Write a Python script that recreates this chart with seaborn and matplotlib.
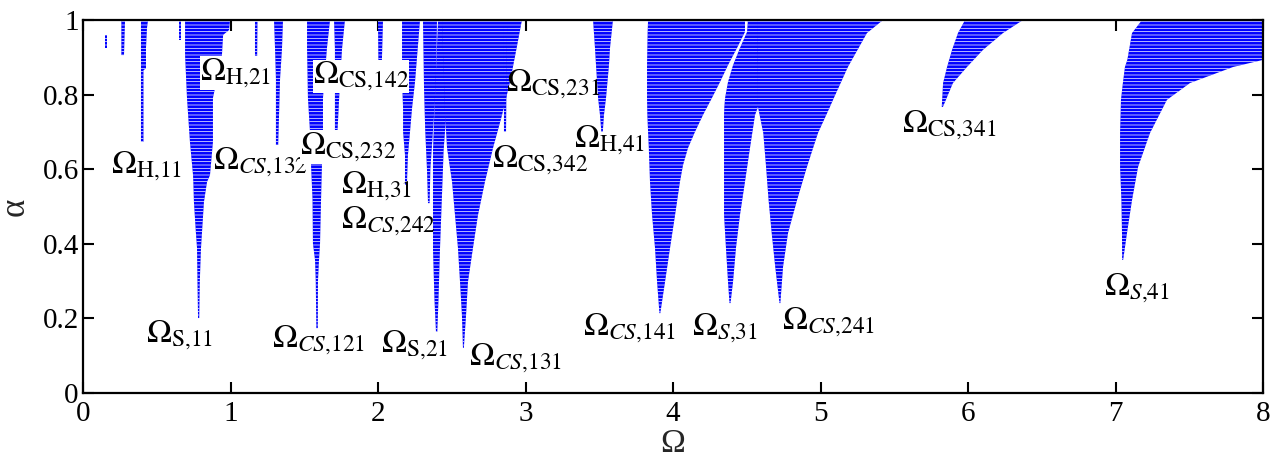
import numpy as np
import seaborn as sns
import matplotlib.pyplot as plt

# instability regions: (alpha, Omega_left, Omega_right), top to tip
dash_016 = [(0.960, 0.150, 0.165), (0.925, 0.150, 0.165)]
line_027 = [(1.000, 0.260, 0.285), (0.906, 0.260, 0.278)]
tongue_h11 = [(1.000, 0.393, 0.441), (0.979, 0.393, 0.434), (0.925, 0.393, 0.427),
              (0.871, 0.393, 0.427), (0.865, 0.393, 0.410), (0.673, 0.393, 0.410)]
line_065 = [(1.000, 0.650, 0.665), (0.946, 0.650, 0.665)]
tongue_s11 = [(1.000, 0.692, 0.997), (0.973, 0.692, 0.990), (0.960, 0.692, 0.950),
              (0.906, 0.692, 0.942), (0.791, 0.705, 0.881), (0.673, 0.725, 0.881),
              (0.584, 0.746, 0.861), (0.566, 0.748, 0.841), (0.512, 0.752, 0.820),
              (0.432, 0.765, 0.807), (0.389, 0.773, 0.800), (0.300, 0.776, 0.792),
              (0.201, 0.780, 0.788)]
line_117 = [(0.995, 1.166, 1.183), (0.871, 1.166, 1.180)]
line_130 = [(1.000, 1.295, 1.356), (0.922, 1.302, 1.349), (0.842, 1.308, 1.336),
            (0.646, 1.308, 1.322)]
tongue_cs121 = [(1.000, 1.519, 1.675), (0.925, 1.519, 1.654), (0.791, 1.525, 1.627),
                (0.700, 1.539, 1.627), (0.611, 1.546, 1.620), (0.520, 1.556, 1.614),
                (0.400, 1.559, 1.607), (0.357, 1.573, 1.600), (0.300, 1.578, 1.593),
                (0.174, 1.582, 1.592)]
line_171 = [(1.000, 1.702, 1.776), (0.922, 1.708, 1.756), (0.786, 1.708, 1.736),
            (0.673, 1.708, 1.722)]
line_202 = [(1.000, 2.000, 2.034), (0.871, 2.003, 2.025)]
tongue_h31 = [(1.000, 2.163, 2.285), (0.834, 2.163, 2.251), (0.764, 2.170, 2.231),
              (0.700, 2.170, 2.217), (0.638, 2.183, 2.203), (0.558, 2.183, 2.196)]
tongue_cs242 = [(1.000, 2.305, 2.400), (0.818, 2.312, 2.393), (0.705, 2.320, 2.373),
                (0.600, 2.332, 2.355), (0.509, 2.339, 2.350)]
tongue_s21 = [(1.000, 2.407, 2.461), (0.732, 2.380, 2.460), (0.651, 2.373, 2.445),
              (0.383, 2.373, 2.420), (0.249, 2.383, 2.410), (0.164, 2.393, 2.402)]
tongue_cs131 = [(1.000, 2.434, 2.976), (0.925, 2.440, 2.940), (0.834, 2.448, 2.895),
                (0.745, 2.455, 2.841), (0.657, 2.468, 2.780), (0.566, 2.502, 2.725),
                (0.477, 2.522, 2.678), (0.389, 2.542, 2.644), (0.298, 2.556, 2.610),
                (0.209, 2.569, 2.597), (0.121, 2.576, 2.582)]
line_286 = [(0.979, 2.854, 2.875), (0.700, 2.854, 2.868)]
tongue_h41 = [(1.000, 3.458, 3.593), (0.925, 3.471, 3.573), (0.879, 3.478, 3.566),
              (0.791, 3.492, 3.546), (0.745, 3.505, 3.532), (0.700, 3.514, 3.524)]
tongue_cs141 = [(1.000, 3.831, 4.488), (0.968, 3.828, 4.488), (0.925, 3.826, 4.434),
                (0.879, 3.824, 4.373), (0.834, 3.824, 4.319), (0.791, 3.824, 4.264),
                (0.745, 3.826, 4.203), (0.700, 3.831, 4.149), (0.657, 3.836, 4.102),
                (0.611, 3.840, 4.068), (0.566, 3.844, 4.047), (0.477, 3.858, 4.014),
                (0.389, 3.878, 3.980), (0.298, 3.892, 3.946), (0.214, 3.908, 3.914)]
tongue_s31 = [(1.000, 4.508, 4.600), (0.968, 4.502, 4.600), (0.925, 4.454, 4.600),
              (0.879, 4.407, 4.600), (0.834, 4.373, 4.600), (0.791, 4.353, 4.600),
              (0.767, 4.348, 4.576), (0.745, 4.346, 4.556), (0.657, 4.346, 4.522),
              (0.566, 4.346, 4.488), (0.477, 4.346, 4.454), (0.389, 4.359, 4.427),
              (0.298, 4.373, 4.407), (0.241, 4.383, 4.390)]
tongue_cs241 = [(1.000, 4.570, 5.424), (0.965, 4.570, 5.315), (0.874, 4.575, 5.186),
                (0.786, 4.576, 5.085), (0.767, 4.576, 5.064), (0.697, 4.612, 4.983),
                (0.606, 4.631, 4.908), (0.517, 4.648, 4.841), (0.429, 4.669, 4.780),
                (0.338, 4.693, 4.746), (0.241, 4.722, 4.728)]
tongue_cs341 = [(1.000, 5.980, 6.373), (0.965, 5.932, 6.237), (0.920, 5.892, 6.102),
                (0.874, 5.858, 5.993), (0.831, 5.831, 5.898), (0.767, 5.822, 5.830)]
tongue_s41 = [(1.000, 7.180, 8.000), (0.965, 7.112, 8.000), (0.893, 7.080, 8.000),
              (0.874, 7.064, 7.797), (0.831, 7.050, 7.505), (0.786, 7.037, 7.349),
              (0.697, 7.031, 7.234), (0.606, 7.031, 7.153), (0.517, 7.040, 7.112),
              (0.429, 7.044, 7.078), (0.357, 7.045, 7.052)]

regions = [dash_016, line_027, tongue_h11, line_065, tongue_s11, line_117, line_130,
           tongue_cs121, line_171, line_202, tongue_h31, tongue_cs242, tongue_s21,
           tongue_cs131, line_286, tongue_h41, tongue_cs141, tongue_s31, tongue_cs241,
           tongue_cs341, tongue_s41]

# region labels (Omega, alpha of the label's lower left corner)
label_text = [r'$\Omega_{\mathrm{H{,}11}}$', r'$\Omega_{\mathrm{H{,}21}}$', r'$\Omega_{CS{,}132}$',
              r'$\Omega_{\mathrm{CS{,}142}}$', r'$\Omega_{\mathrm{CS{,}232}}$', r'$\Omega_{\mathrm{H{,}31}}$',
              r'$\Omega_{CS{,}242}$', r'$\Omega_{\mathrm{CS{,}231}}$', r'$\Omega_{\mathrm{CS{,}342}}$',
              r'$\Omega_{\mathrm{H{,}41}}$', r'$\Omega_{\mathrm{CS{,}341}}$', r'$\Omega_{\mathrm{S{,}11}}$',
              r'$\Omega_{CS{,}121}$', r'$\Omega_{\mathrm{S{,}21}}$', r'$\Omega_{CS{,}131}$',
              r'$\Omega_{CS{,}141}$', r'$\Omega_{S{,}31}$', r'$\Omega_{CS{,}241}$', r'$\Omega_{S{,}41}$']
label_x = [0.19, 0.79, 0.88, 1.56, 1.47, 1.75, 1.75, 2.87, 2.77, 3.33, 5.55, 0.43,
           1.28, 2.02, 2.62, 3.39, 4.13, 4.74, 6.92]
label_y = [0.59, 0.84, 0.60, 0.83, 0.64, 0.537, 0.443, 0.81, 0.605, 0.66, 0.70, 0.135,
           0.123, 0.11, 0.075, 0.155, 0.155, 0.17, 0.263]
# labels that sit on top of a blue region get a white backing
label_boxed = [False, True, True, True, True, False, False, False, False, False, False,
               False, False, False, False, False, False, False, False]

x_ticks = [0, 1, 2, 3, 4, 5, 6, 7, 8]
y_ticks = [0, 0.2, 0.4, 0.6, 0.8, 1]
y_tick_labels = ['0', '0.2', '0.4', '0.6', '0.8', '1']

sns.set_theme(style='ticks')
plt.rcParams['font.family'] = ['Liberation Serif', 'DejaVu Serif']
plt.rcParams['mathtext.fontset'] = 'stix'
plt.rcParams['hatch.color'] = '#b8b8ff'
plt.rcParams['hatch.linewidth'] = 0.5

fig = plt.figure(figsize=(12.75, 4.63), dpi=100)
ax = fig.add_axes([83 / 1275, 70 / 463, 1180 / 1275, 373 / 463])

for reg in regions:
    a = np.array([r[0] for r in reg])
    lo = np.array([r[1] for r in reg])
    hi = np.array([r[2] for r in reg])
    ax.fill_betweenx(a, lo, hi, facecolor='#0000ff', edgecolor='none',
                     hatch='-----', linewidth=0)

for t, x, y, boxed in zip(label_text, label_x, label_y, label_boxed):
    box = dict(facecolor='white', edgecolor='none', pad=0) if boxed else None
    ax.text(x, y, t, fontsize=24, ha='left', va='baseline', color='black', zorder=5,
            bbox=box)

ax.set_xlim(0, 8)
ax.set_ylim(0, 1)
ax.set_xticks(x_ticks)
ax.set_xticklabels([str(v) for v in x_ticks])
ax.set_yticks(y_ticks)
ax.set_yticklabels(y_tick_labels)
ax.tick_params(direction='in', length=8, width=1.5, top=True, right=True,
               labelsize=21, colors='black')
ax.tick_params(axis='x', pad=6)
ax.tick_params(axis='y', pad=3)
for s in ax.spines.values():
    s.set_linewidth(1.6)
    s.set_color('black')
ax.set_xlabel('Ω', fontsize=24, labelpad=1)
ax.set_ylabel('α', fontsize=25, labelpad=8)

fig.savefig('out.png', dpi=100)
